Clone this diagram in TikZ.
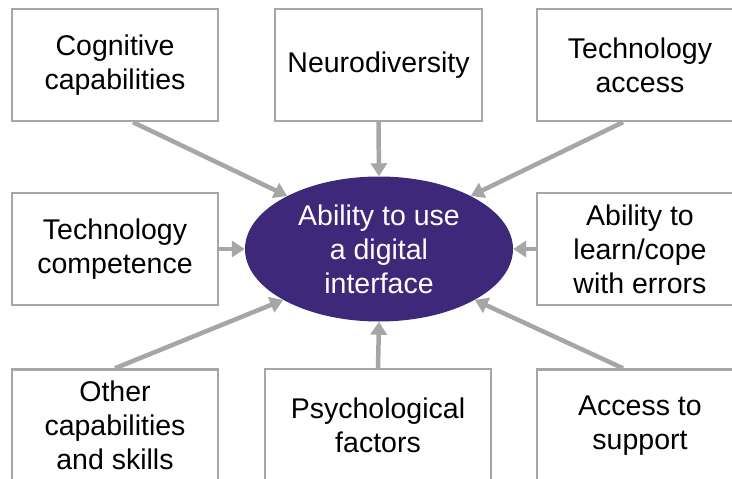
\documentclass[tikz,border=0pt]{standalone}
\usepackage{fontspec}
\setmainfont{Liberation Sans}
\usetikzlibrary{arrows.meta,shapes.geometric,calc}

\definecolor{linegray}{RGB}{166,166,166}
\definecolor{corepurple}{RGB}{62,40,122}

\tikzset{
  factor/.style={draw=linegray, line width=2.4pt, fill=white, rectangle,
    minimum width=206pt, minimum height=112pt, inner sep=0pt,
    align=center, font=\fontsize{28.5}{34}\selectfont, text=black},
  corebubble/.style={ellipse, fill=corepurple, draw=none, inner sep=0pt,
    minimum width=268pt, minimum height=145pt, align=center,
    font=\fontsize{28.5}{34}\selectfont, text=white},
  feed/.style={draw=linegray, line width=4.5pt,
    -{Triangle[width=16pt,length=13pt]}}
}

\begin{document}
\begin{tikzpicture}[x=1pt,y=-1pt]
  \useasboundingbox (0,0) rectangle (732,479);
  \clip (0,0) rectangle (732,479);
  \fill[white] (0,0) rectangle (732,479);

  % central outcome
  \node[corebubble] (core) at (379,249) {Ability to use\\a digital\\interface};

  % top row
  \node[factor] (cog) at (115,65) {Cognitive\\capabilities};
  \node[factor, minimum width=207pt] (neuro) at (378.5,65) {Neurodiversity};
  \node[factor] (techacc) at (640,65) {Technology\\access};

  % middle row
  \node[factor] (techcomp) at (115,249) {Technology\\competence};
  \node[factor] (learn) at (640,249) {Ability to\\learn/cope\\with errors};

  % bottom row
  \node[factor] (other) at (115,425.5) {Other\\capabilities\\and skills};
  \node[factor, minimum width=226pt] (psych) at (378,425) {Psychological\\factors};
  \node[factor] (support) at (640,425.5) {Access to\\support};

  % influences on the central ability
  \draw[feed] ([xshift=18pt]cog.south) -- (core.150);
  \draw[feed] (neuro.south) -- (core.north);
  \draw[feed] ([xshift=-17pt]techacc.south) -- (core.30);
  \draw[feed] (techcomp.east) -- (core.west);
  \draw[feed] (learn.west) -- (core.east);
  \draw[feed] (other.north) -- (core.208);
  \draw[feed] (psych.north) -- (core.south);
  \draw[feed] ([xshift=-17pt]support.north) -- (core.332);
\end{tikzpicture}
\end{document}
